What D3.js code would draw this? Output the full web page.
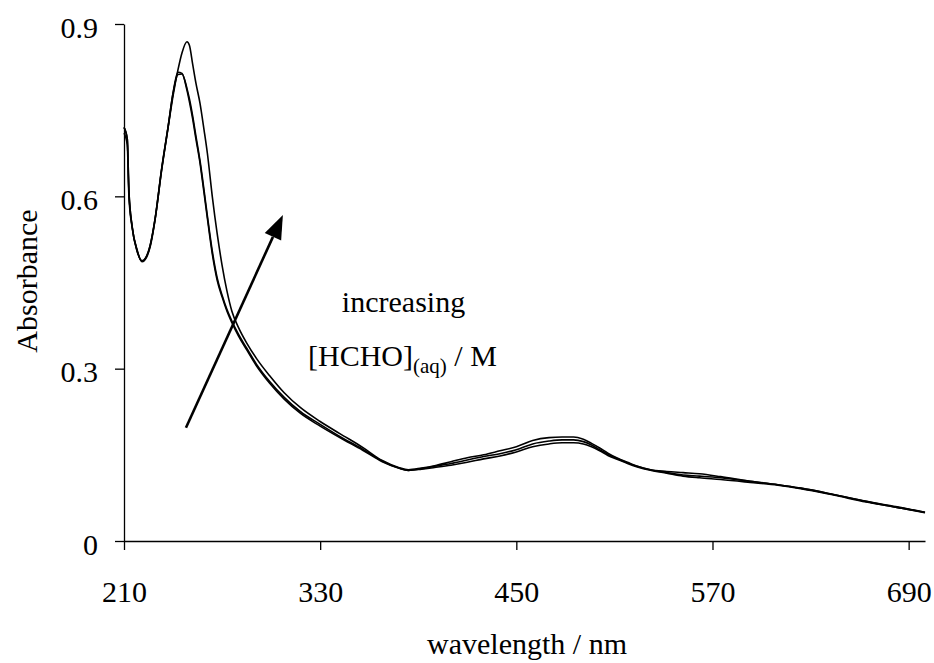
<!DOCTYPE html>
<html>
<head>
<meta charset="utf-8">
<script src="https://cdn.jsdelivr.net/npm/d3@7/dist/d3.min.js"></script>
<style>
  html, body { margin: 0; padding: 0; background: #fff; }
  svg { display: block; }
  text { font-family: "Liberation Serif", "Times New Roman", serif; fill: #000; }
</style>
</head>
<body>
<svg id="chart" width="934" height="663"></svg>
<script>
// ---- data ----
const wavelength = [210, 212, 213, 215, 218, 221, 224, 226, 229, 233, 237, 240, 243, 245.5, 248.5, 250, 252, 254, 256.5, 259, 261, 264, 267, 270, 273, 276, 280, 285, 291, 299, 308, 318, 330, 342, 356, 368, 378, 384, 392, 400, 410, 420, 430, 440, 450, 460, 470, 478, 485, 491, 496, 501, 506, 512, 518, 524, 532, 542, 552, 562, 575, 593, 610, 624, 644, 664, 682, 700];

const absLow = [0.72, 0.70, 0.61, 0.547, 0.507, 0.486, 0.495, 0.512, 0.559, 0.646, 0.721, 0.78, 0.816, 0.814, 0.785, 0.765, 0.735, 0.70, 0.658, 0.605, 0.562, 0.50, 0.454, 0.425, 0.40, 0.38, 0.357, 0.333, 0.305, 0.275, 0.247, 0.222, 0.20, 0.18, 0.158, 0.138, 0.127, 0.123, 0.125, 0.128, 0.132, 0.137, 0.143, 0.148, 0.155, 0.164, 0.169, 0.171, 0.171, 0.169, 0.164, 0.157, 0.149, 0.142, 0.135, 0.129, 0.123, 0.118, 0.113, 0.110, 0.107, 0.102, 0.097, 0.091, 0.080, 0.068, 0.059, 0.049];

const absMid = [0.71, 0.69, 0.60, 0.545, 0.505, 0.487, 0.497, 0.514, 0.561, 0.648, 0.722, 0.779, 0.812, 0.813, 0.788, 0.770, 0.740, 0.705, 0.662, 0.610, 0.566, 0.505, 0.458, 0.428, 0.403, 0.383, 0.360, 0.336, 0.308, 0.278, 0.250, 0.225, 0.203, 0.182, 0.160, 0.139, 0.127, 0.123, 0.126, 0.130, 0.135, 0.141, 0.147, 0.152, 0.159, 0.169, 0.174, 0.176, 0.176, 0.173, 0.167, 0.159, 0.151, 0.143, 0.136, 0.130, 0.124, 0.119, 0.115, 0.113, 0.110, 0.104, 0.098, 0.092, 0.081, 0.069, 0.060, 0.050];

const absHigh = [0.72, 0.70, 0.61, 0.547, 0.505, 0.488, 0.497, 0.515, 0.56, 0.645, 0.72, 0.775, 0.82, 0.85, 0.869, 0.863, 0.83, 0.797, 0.762, 0.715, 0.675, 0.60, 0.535, 0.48, 0.435, 0.40, 0.372, 0.345, 0.318, 0.288, 0.258, 0.232, 0.208, 0.187, 0.163, 0.140, 0.128, 0.124, 0.127, 0.131, 0.138, 0.145, 0.150, 0.157, 0.164, 0.175, 0.180, 0.181, 0.181, 0.177, 0.170, 0.162, 0.153, 0.144, 0.137, 0.130, 0.124, 0.121, 0.119, 0.117, 0.112, 0.104, 0.098, 0.092, 0.081, 0.069, 0.059, 0.050];

const series = [absLow, absMid, absHigh];

const xTicks = [210, 330, 450, 570, 690];
const yTicks = [0, 0.3, 0.6, 0.9];
const yTickLabels = ["0", "0.3", "0.6", "0.9"];

const xTitle = "wavelength / nm";
const yTitle = "Absorbance";
const annotLine1 = "increasing";

// ---- layout ----
const svg = d3.select("#chart");
const x = d3.scaleLinear().domain([210, 700]).range([124, 925]);
const y = d3.scaleLinear().domain([0, 0.9]).range([541, 24]);
const FS = 30;

// axes
const xAxis = d3.axisBottom(x).tickValues(xTicks).tickSize(9).tickSizeOuter(0).tickFormat(d3.format("d"));
const gx = svg.append("g").attr("transform", `translate(0,${y(0)})`).call(xAxis);
gx.select(".domain").attr("stroke", "#000").attr("stroke-width", 1.3);
gx.selectAll(".tick line").attr("stroke", "#000").attr("stroke-width", 1.3);
gx.selectAll(".tick text").attr("font-size", FS).attr("y", 61).attr("dy", 0)
  .attr("font-family", "Liberation Serif");

const yAxis = d3.axisLeft(y).tickValues(yTicks).tickSize(9).tickSizeOuter(0)
  .tickFormat((d, i) => yTickLabels[i]);
const gy = svg.append("g").attr("transform", `translate(${x(210)},0)`).call(yAxis);
gy.select(".domain").attr("stroke", "#000").attr("stroke-width", 1.3);
gy.selectAll(".tick line").attr("stroke", "#000").attr("stroke-width", 1.3);
gy.selectAll(".tick text").attr("font-size", FS).attr("x", -26).attr("dy", "0.44em")
  .attr("font-family", "Liberation Serif");

// titles
svg.append("text").attr("x", 527).attr("y", 654).attr("text-anchor", "middle")
  .attr("font-size", FS).text(xTitle);
svg.append("text").attr("transform", "translate(37,281) rotate(-90)")
  .attr("text-anchor", "middle").attr("font-size", FS).text(yTitle);

// curves
const line = d3.line().x((d, i) => x(wavelength[i])).y(d => y(d)).curve(d3.curveMonotoneX);
svg.append("g").selectAll("path").data(series).join("path")
  .attr("d", d => line(d))
  .attr("fill", "none").attr("stroke", "#000").attr("stroke-width", 1.6)
  .attr("stroke-linejoin", "round");

// arrow annotation (in data coordinates)
const arrowFrom = [247.9, 0.197];
const arrowTo = [307.2, 0.5675];
const x1 = x(arrowFrom[0]), y1 = y(arrowFrom[1]);
const x2 = x(arrowTo[0]), y2 = y(arrowTo[1]);
const ang = Math.atan2(y2 - y1, x2 - x1);
const headLen = 24, headHalf = 9;
const bx = x2 - headLen * Math.cos(ang), by = y2 - headLen * Math.sin(ang);
svg.append("line").attr("x1", x1).attr("y1", y1).attr("x2", bx).attr("y2", by)
  .attr("stroke", "#000").attr("stroke-width", 2.6);
svg.append("path")
  .attr("d", `M${x2},${y2} L${bx + headHalf * Math.sin(ang)},${by - headHalf * Math.cos(ang)} L${bx - headHalf * Math.sin(ang)},${by + headHalf * Math.cos(ang)} Z`)
  .attr("fill", "#000");

// annotation text
svg.append("text").attr("x", 403.5).attr("y", 312).attr("text-anchor", "middle")
  .attr("font-size", FS).text(annotLine1);
const t2 = svg.append("text").attr("x", 308).attr("y", 366).attr("font-size", FS);
t2.append("tspan").text("[HCHO]");
t2.append("tspan").attr("font-size", 21).attr("dy", 7).text("(aq)");
t2.append("tspan").attr("dy", -7).text(" / M");
</script>
</body>
</html>
